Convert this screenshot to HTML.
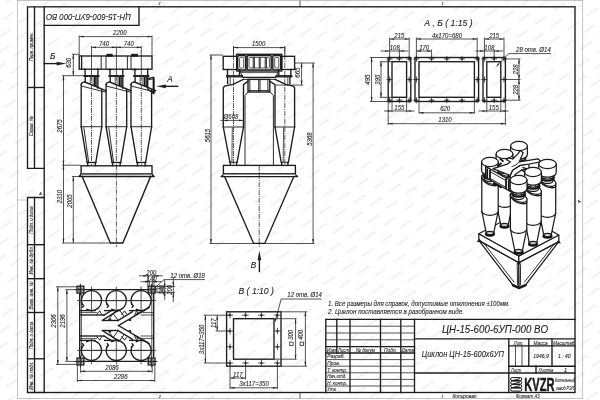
<!DOCTYPE html>
<html><head><meta charset="utf-8"><title>ЦН-15-600-6УП-000 ВО</title>
<style>
html,body{margin:0;padding:0;background:#fff;}
body{width:600px;height:400px;overflow:hidden;font-family:"Liberation Sans",sans-serif;}
svg{display:block;position:absolute;left:0;top:0}
.k{stroke:#1c1c1c;stroke-width:1.35;fill:none;stroke-linecap:square;stroke-linejoin:miter}
.kk{stroke:#111;stroke-width:1.8;fill:none;stroke-linecap:butt}
.m{stroke:#222;stroke-width:.95;fill:none}
.n{stroke:#2a2a2a;stroke-width:.8;fill:none}
.o{stroke:#8a8a8a;stroke-width:.5;fill:none}
.c{stroke:#2a2a2a;stroke-width:.75;fill:none;stroke-dasharray:5 1 1 1}
.d{stroke:#222;stroke-width:1.3;fill:none;stroke-dasharray:.9 2.2}
.a{fill:#222;stroke:none}
.w{fill:#fff;stroke:#1c1c1c;stroke-width:1.25;stroke-linejoin:round}
.wn{fill:#fff;stroke:#333;stroke-width:.5}
.b{fill:#1c1c1c;stroke:none}
.t{font-family:"Liberation Sans",sans-serif;font-style:italic;fill:#1e1e1e;stroke:#1e1e1e;stroke-width:.1}
.wm{font-family:"Liberation Sans",sans-serif;font-style:italic;font-weight:bold;fill:#ededed}
</style></head><body>
<svg width="600" height="400" viewBox="0 0 600 400" style="filter:grayscale(1)">
<defs><pattern id="wm" width="16.4" height="17.2" patternUnits="userSpaceOnUse" patternTransform="translate(3,6) rotate(9.8)"><text transform="translate(8.2,9.6) rotate(-44)" text-anchor="middle" font-size="3.1" font-family="Liberation Sans, sans-serif" font-weight="bold" font-style="italic" fill="#e5e5e5">KVZR.RU</text></pattern></defs>
<rect x="0" y="0" width="600" height="400" fill="url(#wm)"/>
<rect class="o" x="17.30" y="0.50" width="565.50" height="398.00"/>
<rect class="k" x="44.20" y="6.80" width="530.80" height="385.70"/>
<path class="k" d="M44.20,6.80 L27.50,6.80 L27.50,168.30 L44.20,168.30"/>
<line class="k" x1="34.50" y1="6.80" x2="34.50" y2="168.30"/>
<line class="k" x1="27.50" y1="87.50" x2="44.20" y2="87.50"/>
<path class="k" d="M44.20,197.50 L27.50,197.50 L27.50,392.50 L44.20,392.50"/>
<line class="k" x1="34.50" y1="197.50" x2="34.50" y2="392.50"/>
<line class="k" x1="27.50" y1="244.70" x2="44.20" y2="244.70"/>
<line class="k" x1="27.50" y1="278.70" x2="44.20" y2="278.70"/>
<line class="k" x1="27.50" y1="312.50" x2="44.20" y2="312.50"/>
<line class="k" x1="27.50" y1="358.80" x2="44.20" y2="358.80"/>
<text class="t" transform="translate(32.80,46.80) rotate(-90) scale(0.96,1)" font-size="5" text-anchor="middle" textLength="30.0" lengthAdjust="spacingAndGlyphs">Перв. примен.</text>
<text class="t" transform="translate(32.80,126.20) rotate(-90) scale(0.96,1)" font-size="5" text-anchor="middle" textLength="20.8" lengthAdjust="spacingAndGlyphs">Справ. №</text>
<text class="t" transform="translate(32.80,220.00) rotate(-90) scale(0.96,1)" font-size="5" text-anchor="middle" textLength="28.6" lengthAdjust="spacingAndGlyphs">Подп. и дата</text>
<text class="t" transform="translate(32.80,260.40) rotate(-90) scale(0.96,1)" font-size="5" text-anchor="middle" textLength="29.5" lengthAdjust="spacingAndGlyphs">Инв. № дубл.</text>
<text class="t" transform="translate(32.80,295.60) rotate(-90) scale(0.96,1)" font-size="5" text-anchor="middle" textLength="29.2" lengthAdjust="spacingAndGlyphs">Взам. инв. №</text>
<text class="t" transform="translate(32.80,335.60) rotate(-90) scale(0.96,1)" font-size="5" text-anchor="middle" textLength="28.6" lengthAdjust="spacingAndGlyphs">Подп. и дата</text>
<text class="t" transform="translate(32.80,375.60) rotate(-90) scale(0.96,1)" font-size="5" text-anchor="middle" textLength="29.5" lengthAdjust="spacingAndGlyphs">Инв. № подл.</text>
<text class="t" transform="translate(40.50,194.60) rotate(0) scale(0.96,1)" font-size="4" text-anchor="middle">А</text>
<text class="t" transform="translate(578.00,201.50) rotate(90) scale(0.96,1)" font-size="4" text-anchor="middle">А</text>
<path class="k" d="M44.20,25.30 L139.00,25.30 L139.00,6.80"/>
<text class="t" transform="translate(88.60,13.80) rotate(180) scale(0.96,1)" font-size="8.8" text-anchor="middle" textLength="88.5" lengthAdjust="spacingAndGlyphs">ЦН-15-600-6УП-000 ВО</text>
<line class="n" x1="300.00" y1="0.50" x2="300.00" y2="6.80"/>
<line class="n" x1="300.00" y1="392.50" x2="300.00" y2="398.50"/>
<text class="t" transform="translate(159.50,2.20) rotate(180) scale(0.96,1)" font-size="3.6" text-anchor="middle">2</text>
<text class="t" transform="translate(442.50,2.20) rotate(180) scale(0.96,1)" font-size="3.6" text-anchor="middle">1</text>
<text class="t" transform="translate(160.00,397.60) rotate(0) scale(0.96,1)" font-size="3.6" text-anchor="middle">2</text>
<text class="t" transform="translate(442.50,397.60) rotate(0) scale(0.96,1)" font-size="3.6" text-anchor="middle">1</text>
<line class="o" x1="17.30" y1="200.00" x2="27.50" y2="200.00"/>
<text class="t" transform="translate(328.00,305.60) rotate(0) scale(0.86,1)" font-size="7" text-anchor="start" textLength="211.6" lengthAdjust="spacingAndGlyphs">1. Все размеры для справок, допустимые отклонения ±100мм.</text>
<text class="t" transform="translate(328.00,313.70) rotate(0) scale(0.86,1)" font-size="7" text-anchor="start" textLength="158.1" lengthAdjust="spacingAndGlyphs">2. Циклон поставляется в разобранном виде.</text>
<line class="k" x1="325.80" y1="319.40" x2="575.00" y2="319.40"/>
<line class="k" x1="350.00" y1="319.40" x2="350.00" y2="392.50"/>
<line class="k" x1="380.50" y1="319.40" x2="380.50" y2="392.50"/>
<line class="k" x1="400.80" y1="319.40" x2="400.80" y2="392.50"/>
<line class="k" x1="414.50" y1="319.40" x2="414.50" y2="392.50"/>
<line class="k" x1="325.80" y1="319.40" x2="325.80" y2="392.50"/>
<line class="k" x1="336.80" y1="319.40" x2="336.80" y2="353.00"/>
<line class="n" x1="325.80" y1="326.20" x2="414.50" y2="326.20"/>
<line class="n" x1="325.80" y1="333.00" x2="414.50" y2="333.00"/>
<line class="n" x1="325.80" y1="339.80" x2="414.50" y2="339.80"/>
<line class="k" x1="325.80" y1="346.60" x2="414.50" y2="346.60"/>
<line class="k" x1="325.80" y1="353.00" x2="414.50" y2="353.00"/>
<line class="n" x1="325.80" y1="359.60" x2="414.50" y2="359.60"/>
<line class="n" x1="325.80" y1="366.20" x2="414.50" y2="366.20"/>
<line class="n" x1="325.80" y1="372.80" x2="414.50" y2="372.80"/>
<line class="n" x1="325.80" y1="379.40" x2="414.50" y2="379.40"/>
<line class="n" x1="325.80" y1="386.00" x2="414.50" y2="386.00"/>
<line class="k" x1="414.50" y1="338.80" x2="575.00" y2="338.80"/>
<line class="k" x1="414.50" y1="373.00" x2="575.00" y2="373.00"/>
<line class="k" x1="508.80" y1="338.80" x2="508.80" y2="392.50"/>
<line class="k" x1="508.80" y1="345.80" x2="575.00" y2="345.80"/>
<line class="k" x1="508.80" y1="366.20" x2="575.00" y2="366.20"/>
<line class="k" x1="528.80" y1="338.80" x2="528.80" y2="366.20"/>
<line class="k" x1="552.00" y1="338.80" x2="552.00" y2="366.20"/>
<line class="n" x1="515.50" y1="345.80" x2="515.50" y2="366.20"/>
<line class="n" x1="522.00" y1="345.80" x2="522.00" y2="366.20"/>
<line class="k" x1="536.00" y1="366.20" x2="536.00" y2="373.00"/>
<text class="t" transform="translate(331.40,351.90) rotate(0) scale(0.96,1)" font-size="5.8" text-anchor="middle" textLength="9.4" lengthAdjust="spacingAndGlyphs">Изм</text>
<text class="t" transform="translate(343.50,351.90) rotate(0) scale(0.96,1)" font-size="5.8" text-anchor="middle" textLength="11.5" lengthAdjust="spacingAndGlyphs">Лист</text>
<text class="t" transform="translate(365.50,351.90) rotate(0) scale(0.96,1)" font-size="5.8" text-anchor="middle" textLength="19.8" lengthAdjust="spacingAndGlyphs">№ докум</text>
<text class="t" transform="translate(390.50,351.90) rotate(0) scale(0.96,1)" font-size="5.8" text-anchor="middle" textLength="13.5" lengthAdjust="spacingAndGlyphs">Подп.</text>
<text class="t" transform="translate(407.70,351.90) rotate(0) scale(0.96,1)" font-size="5.8" text-anchor="middle" textLength="12.7" lengthAdjust="spacingAndGlyphs">Дата</text>
<text class="t" transform="translate(327.20,358.30) rotate(0) scale(0.96,1)" font-size="5.8" text-anchor="start" textLength="18.3" lengthAdjust="spacingAndGlyphs">Разраб.</text>
<text class="t" transform="translate(327.20,364.90) rotate(0) scale(0.96,1)" font-size="5.8" text-anchor="start" textLength="13.5" lengthAdjust="spacingAndGlyphs">Пров.</text>
<text class="t" transform="translate(327.20,371.50) rotate(0) scale(0.96,1)" font-size="5.8" text-anchor="start" textLength="20.8" lengthAdjust="spacingAndGlyphs">Т. контр.</text>
<text class="t" transform="translate(327.20,378.10) rotate(0) scale(0.96,1)" font-size="5.8" text-anchor="start" textLength="20.2" lengthAdjust="spacingAndGlyphs">Нач.отд.</text>
<text class="t" transform="translate(327.20,384.70) rotate(0) scale(0.96,1)" font-size="5.8" text-anchor="start" textLength="20.8" lengthAdjust="spacingAndGlyphs">Н. контр.</text>
<text class="t" transform="translate(327.20,391.30) rotate(0) scale(0.96,1)" font-size="5.8" text-anchor="start" textLength="10.0" lengthAdjust="spacingAndGlyphs">Утв.</text>
<text class="t" transform="translate(495.00,332.80) rotate(0) scale(0.96,1)" font-size="10.4" text-anchor="middle" textLength="110.4" lengthAdjust="spacingAndGlyphs">ЦН-15-600-6УП-000 ВО</text>
<text class="t" transform="translate(462.80,356.80) rotate(0) scale(0.96,1)" font-size="9.4" text-anchor="middle" textLength="85.4" lengthAdjust="spacingAndGlyphs">Циклон ЦН-15-600х6УП</text>
<text class="t" transform="translate(518.60,344.70) rotate(0) scale(0.96,1)" font-size="5.8" text-anchor="middle" textLength="9.9" lengthAdjust="spacingAndGlyphs">Лит.</text>
<text class="t" transform="translate(540.60,344.70) rotate(0) scale(0.96,1)" font-size="5.8" text-anchor="middle" textLength="14.6" lengthAdjust="spacingAndGlyphs">Масса</text>
<text class="t" transform="translate(563.80,344.70) rotate(0) scale(0.96,1)" font-size="5.8" text-anchor="middle" textLength="21.9" lengthAdjust="spacingAndGlyphs">Масштаб</text>
<text class="t" transform="translate(541.00,358.20) rotate(0) scale(0.96,1)" font-size="5.6" text-anchor="middle" textLength="16.1" lengthAdjust="spacingAndGlyphs">1946,9</text>
<text class="t" transform="translate(564.20,358.20) rotate(0) scale(0.96,1)" font-size="5.6" text-anchor="middle" textLength="13.0" lengthAdjust="spacingAndGlyphs">1 : 40</text>
<text class="t" transform="translate(516.00,371.80) rotate(0) scale(0.96,1)" font-size="5.8" text-anchor="middle" textLength="10.4" lengthAdjust="spacingAndGlyphs">Лист</text>
<text class="t" transform="translate(546.00,371.80) rotate(0) scale(0.96,1)" font-size="5.8" text-anchor="middle" textLength="15.1" lengthAdjust="spacingAndGlyphs">Листов</text>
<text class="t" transform="translate(565.50,371.80) rotate(0) scale(0.96,1)" font-size="5.8" text-anchor="middle">1</text>
<text class="t" transform="translate(464.50,398.20) rotate(0) scale(0.96,1)" font-size="5.8" text-anchor="middle" textLength="25.0" lengthAdjust="spacingAndGlyphs">Копировал</text>
<text class="t" transform="translate(527.80,398.20) rotate(0) scale(0.96,1)" font-size="5.8" text-anchor="middle" textLength="25.0" lengthAdjust="spacingAndGlyphs">Формат А3</text>
<rect x="510.6" y="377.60" width="11.2" height="3" rx="1.5" style="fill:#fff;stroke:#111;stroke-width:1"/>
<rect x="510.6" y="381.10" width="11.2" height="3" rx="1.5" style="fill:#fff;stroke:#111;stroke-width:1"/>
<rect x="510.6" y="384.60" width="11.2" height="3" rx="1.5" style="fill:#fff;stroke:#111;stroke-width:1"/>
<rect x="510.6" y="388.10" width="11.2" height="3" rx="1.5" style="fill:#fff;stroke:#111;stroke-width:1"/>
<path style="stroke:#111;stroke-width:.9;fill:none" d="M512.5,380.6 L520,378.6 M512.5,384.1 L520,382.1 M512.5,387.6 L520,385.6"/>
<text transform="translate(524.3,390.6) scale(0.6,1)" font-family="Liberation Sans, sans-serif" font-weight="bold" font-size="18.6" style="fill:#1a1a1a;stroke:#1a1a1a;stroke-width:.5">KVZR</text>
<text transform="translate(524.3,390.6) scale(0.6,1)" font-family="Liberation Sans, sans-serif" font-weight="bold" font-size="18.6" style="fill:none;stroke:#fff;stroke-width:.45" opacity=".0">KVZR</text>
<text class="t" transform="translate(555.00,382.40) rotate(0) scale(0.96,1)" font-size="5.8" text-anchor="start" textLength="20.8" lengthAdjust="spacingAndGlyphs">Котельный</text>
<text class="t" transform="translate(556.00,389.80) rotate(0) scale(0.96,1)" font-size="5.8" text-anchor="start" textLength="18.8" lengthAdjust="spacingAndGlyphs">завод РЭП</text>
<line class="n" x1="91.50" y1="46.00" x2="91.50" y2="76.00"/>
<line class="c" x1="91.50" y1="76.00" x2="91.50" y2="165.20"/>
<line class="n" x1="116.40" y1="46.00" x2="116.40" y2="76.00"/>
<line class="c" x1="116.40" y1="76.00" x2="116.40" y2="165.20"/>
<line class="n" x1="141.30" y1="46.00" x2="141.30" y2="76.00"/>
<line class="c" x1="141.30" y1="76.00" x2="141.30" y2="165.20"/>
<line class="c" x1="116.40" y1="165.20" x2="116.40" y2="247.00"/>
<rect class="k" x="79.20" y="56.00" width="72.80" height="13.20"/>
<line class="k" x1="81.60" y1="56.00" x2="81.60" y2="69.20"/>
<line class="m" x1="101.20" y1="56.00" x2="101.20" y2="69.20"/>
<line class="m" x1="106.00" y1="56.00" x2="106.00" y2="69.20"/>
<line class="m" x1="127.40" y1="56.00" x2="127.40" y2="69.20"/>
<line class="m" x1="131.00" y1="56.00" x2="131.00" y2="69.20"/>
<rect class="k" x="107.00" y="54.50" width="5.00" height="1.50" style="fill:#1c1c1c"/>
<rect class="k" x="131.80" y="54.50" width="5.40" height="1.50" style="fill:#1c1c1c"/>
<rect class="b" x="107.40" y="69.20" width="4.20" height="1.00"/>
<rect class="b" x="132.20" y="69.20" width="4.60" height="1.00"/>
<line class="k" x1="85.10" y1="69.20" x2="85.10" y2="75.40"/>
<line class="k" x1="97.90" y1="69.20" x2="97.90" y2="75.40"/>
<line x1="83.50" y1="76" x2="99.50" y2="76" style="stroke:#111;stroke-width:1.9"/>
<line x1="84.90" y1="76" x2="99.10" y2="76" style="stroke:#fff;stroke-width:.5;stroke-dasharray:.6 2.6"/>
<line class="k" x1="85.30" y1="76.80" x2="85.30" y2="82.00"/>
<line class="k" x1="97.90" y1="76.80" x2="97.90" y2="88.00"/>
<line class="n" x1="90.30" y1="76.80" x2="90.30" y2="84.00"/>
<line class="n" x1="93.10" y1="76.80" x2="93.10" y2="85.00"/>
<line class="kk" x1="94.90" y1="76.80" x2="94.90" y2="86.20"/>
<line class="m" x1="96.70" y1="76.80" x2="96.70" y2="87.20"/>
<line class="k" x1="110.00" y1="69.20" x2="110.00" y2="75.40"/>
<line class="k" x1="122.80" y1="69.20" x2="122.80" y2="75.40"/>
<line x1="108.40" y1="76" x2="124.40" y2="76" style="stroke:#111;stroke-width:1.9"/>
<line x1="109.80" y1="76" x2="124.00" y2="76" style="stroke:#fff;stroke-width:.5;stroke-dasharray:.6 2.6"/>
<line class="k" x1="110.20" y1="76.80" x2="110.20" y2="82.00"/>
<line class="k" x1="122.80" y1="76.80" x2="122.80" y2="88.00"/>
<line class="n" x1="115.20" y1="76.80" x2="115.20" y2="84.00"/>
<line class="n" x1="118.00" y1="76.80" x2="118.00" y2="85.00"/>
<line class="kk" x1="119.80" y1="76.80" x2="119.80" y2="86.20"/>
<line class="m" x1="121.60" y1="76.80" x2="121.60" y2="87.20"/>
<line class="k" x1="134.90" y1="69.20" x2="134.90" y2="75.40"/>
<line class="k" x1="147.70" y1="69.20" x2="147.70" y2="75.40"/>
<line x1="133.30" y1="76" x2="149.30" y2="76" style="stroke:#111;stroke-width:1.9"/>
<line x1="134.70" y1="76" x2="148.90" y2="76" style="stroke:#fff;stroke-width:.5;stroke-dasharray:.6 2.6"/>
<line class="k" x1="135.10" y1="76.80" x2="135.10" y2="82.00"/>
<line class="k" x1="147.70" y1="76.80" x2="147.70" y2="88.00"/>
<line class="n" x1="140.10" y1="76.80" x2="140.10" y2="84.00"/>
<line class="n" x1="142.90" y1="76.80" x2="142.90" y2="85.00"/>
<line class="kk" x1="144.70" y1="76.80" x2="144.70" y2="86.20"/>
<line class="m" x1="146.50" y1="76.80" x2="146.50" y2="87.20"/>
<path class="k" d="M81.20,84.4 Q81.60,82.2 84.20,81.8 L105.80,90.6"/>
<path class="m" d="M81.20,86 L105.80,92.2"/>
<line class="k" x1="81.20" y1="84.40" x2="81.20" y2="126.70"/>
<line class="k" x1="101.80" y1="89.60" x2="101.80" y2="126.70"/>
<line class="m" x1="81.20" y1="126.70" x2="101.80" y2="126.70"/>
<line class="k" x1="81.20" y1="126.70" x2="87.20" y2="162.50"/>
<line class="k" x1="101.80" y1="126.70" x2="95.80" y2="162.50"/>
<line class="k" x1="87.20" y1="162.50" x2="95.80" y2="162.50"/>
<line class="k" x1="87.70" y1="162.50" x2="87.70" y2="165.60"/>
<line class="k" x1="95.30" y1="162.50" x2="95.30" y2="165.60"/>
<line class="m" x1="83.80" y1="127.20" x2="88.60" y2="162.00"/>
<path class="k" d="M106.10,84.4 Q106.50,82.2 109.10,81.8 L130.70,90.6"/>
<path class="m" d="M106.10,86 L130.70,92.2"/>
<line class="k" x1="106.10" y1="84.40" x2="106.10" y2="126.70"/>
<line class="k" x1="126.70" y1="89.60" x2="126.70" y2="126.70"/>
<line class="m" x1="106.10" y1="126.70" x2="126.70" y2="126.70"/>
<line class="k" x1="106.10" y1="126.70" x2="112.10" y2="162.50"/>
<line class="k" x1="126.70" y1="126.70" x2="120.70" y2="162.50"/>
<line class="k" x1="112.10" y1="162.50" x2="120.70" y2="162.50"/>
<line class="k" x1="112.60" y1="162.50" x2="112.60" y2="165.60"/>
<line class="k" x1="120.20" y1="162.50" x2="120.20" y2="165.60"/>
<line class="m" x1="108.70" y1="127.20" x2="113.50" y2="162.00"/>
<path class="k" d="M131.00,84.4 Q131.40,82.2 134.00,81.8 L155.60,90.6"/>
<path class="m" d="M131.00,86 L155.60,92.2"/>
<line class="k" x1="131.00" y1="84.40" x2="131.00" y2="126.70"/>
<line class="k" x1="151.60" y1="89.60" x2="151.60" y2="126.70"/>
<line class="m" x1="131.00" y1="126.70" x2="151.60" y2="126.70"/>
<line class="k" x1="131.00" y1="126.70" x2="137.00" y2="162.50"/>
<line class="k" x1="151.60" y1="126.70" x2="145.60" y2="162.50"/>
<line class="k" x1="137.00" y1="162.50" x2="145.60" y2="162.50"/>
<line class="k" x1="137.50" y1="162.50" x2="137.50" y2="165.60"/>
<line class="k" x1="145.10" y1="162.50" x2="145.10" y2="165.60"/>
<path class="k" d="M148.00,78.60 L153.60,77.40 L153.60,93.50 L148.00,89.40"/>
<line class="kk" x1="153.60" y1="77.40" x2="153.60" y2="93.50"/>
<line class="m" x1="148.00" y1="79.80" x2="153.60" y2="78.80"/>
<rect class="k" x="81.10" y="165.80" width="70.90" height="8.10"/>
<line class="k" x1="79.60" y1="176.50" x2="153.20" y2="176.50"/>
<path class="b" d="M77.60,176.90 L81.10,173.20 L81.10,176.90 Z"/>
<path class="b" d="M155.40,176.90 L152.00,173.20 L152.00,176.90 Z"/>
<path class="k" d="M82.20,176.50 L110.40,243.00 L122.80,243.00 L150.60,176.50"/>
<line class="n" x1="79.20" y1="35.50" x2="79.20" y2="56.00"/>
<line class="n" x1="152.00" y1="35.50" x2="152.00" y2="56.00"/>
<line class="n" x1="79.20" y1="36.60" x2="152.00" y2="36.60"/>
<path class="a" d="M79.20,36.60 L83.70,35.75 L83.70,37.45 Z"/>
<path class="a" d="M152.00,36.60 L147.50,37.45 L147.50,35.75 Z"/>
<text class="t" transform="translate(119.80,35.30) rotate(0) scale(0.96,1)" font-size="6.3" text-anchor="middle">2200</text>
<line class="n" x1="91.50" y1="47.30" x2="116.40" y2="47.30"/>
<path class="a" d="M91.50,47.30 L96.00,46.45 L96.00,48.15 Z"/>
<path class="a" d="M116.40,47.30 L111.90,48.15 L111.90,46.45 Z"/>
<text class="t" transform="translate(104.00,46.10) rotate(0) scale(0.96,1)" font-size="6.3" text-anchor="middle">740</text>
<line class="n" x1="116.40" y1="47.30" x2="141.30" y2="47.30"/>
<path class="a" d="M116.40,47.30 L120.90,46.45 L120.90,48.15 Z"/>
<path class="a" d="M141.30,47.30 L136.80,48.15 L136.80,46.45 Z"/>
<text class="t" transform="translate(128.80,46.10) rotate(0) scale(0.96,1)" font-size="6.3" text-anchor="middle">740</text>
<line class="n" x1="71.80" y1="54.30" x2="79.20" y2="54.30"/>
<line class="n" x1="62.00" y1="75.70" x2="84.00" y2="75.70"/>
<line class="n" x1="73.30" y1="54.30" x2="73.30" y2="75.70"/>
<path class="a" d="M73.30,54.30 L74.15,58.80 L72.45,58.80 Z"/>
<path class="a" d="M73.30,75.70 L72.45,71.20 L74.15,71.20 Z"/>
<text class="t" transform="translate(71.30,62.80) rotate(-90) scale(0.96,1)" font-size="6.3" text-anchor="middle">630</text>
<line class="n" x1="63.50" y1="75.70" x2="63.50" y2="165.20"/>
<path class="a" d="M63.50,75.70 L64.35,80.20 L62.65,80.20 Z"/>
<path class="a" d="M63.50,165.20 L62.65,160.70 L64.35,160.70 Z"/>
<text class="t" transform="translate(62.00,126.00) rotate(-90) scale(0.96,1)" font-size="6.3" text-anchor="middle">2675</text>
<line class="n" x1="62.00" y1="165.20" x2="81.00" y2="165.20"/>
<line class="n" x1="63.50" y1="165.20" x2="63.50" y2="243.00"/>
<path class="a" d="M63.50,165.20 L64.35,169.70 L62.65,169.70 Z"/>
<path class="a" d="M63.50,243.00 L62.65,238.50 L64.35,238.50 Z"/>
<text class="t" transform="translate(62.20,196.50) rotate(-90) scale(0.96,1)" font-size="6.3" text-anchor="middle">2310</text>
<line class="n" x1="72.00" y1="176.50" x2="78.60" y2="176.50"/>
<line class="n" x1="62.00" y1="243.00" x2="110.40" y2="243.00"/>
<line class="n" x1="73.30" y1="176.50" x2="73.30" y2="243.00"/>
<path class="a" d="M73.30,176.50 L74.15,181.00 L72.45,181.00 Z"/>
<path class="a" d="M73.30,243.00 L72.45,238.50 L74.15,238.50 Z"/>
<text class="t" transform="translate(72.00,201.00) rotate(-90) scale(0.96,1)" font-size="6.3" text-anchor="middle">2005</text>
<line class="k" x1="44.20" y1="63.60" x2="58.00" y2="63.60"/>
<path class="a" d="M66.30,63.60 L56.70,65.50 L56.70,61.70 Z"/>
<text class="t" transform="translate(52.70,58.60) rotate(0) scale(0.96,1)" font-size="8.6" text-anchor="middle">Б</text>
<line class="k" x1="164.50" y1="86.30" x2="177.70" y2="86.30"/>
<path class="a" d="M156.20,86.30 L165.90,84.40 L165.90,88.20 Z"/>
<text class="t" transform="translate(170.00,81.80) rotate(0) scale(0.96,1)" font-size="8.6" text-anchor="middle">А</text>
<line class="c" x1="233.50" y1="47.00" x2="233.50" y2="165.40"/>
<line class="c" x1="284.80" y1="47.00" x2="284.80" y2="165.40"/>
<line class="c" x1="259.20" y1="166.00" x2="259.20" y2="247.00"/>
<rect class="k" x="223.20" y="56.30" width="13.50" height="13.20"/>
<rect class="k" x="281.70" y="56.30" width="12.90" height="13.20"/>
<rect class="k" x="236.70" y="54.30" width="45.00" height="16.70"/>
<rect class="k" x="237.70" y="55.50" width="7.90" height="14.30" rx="1.6"/>
<rect class="k" x="247.20" y="55.50" width="24.00" height="14.30" rx="1.6"/>
<rect class="k" x="272.80" y="55.50" width="7.90" height="14.30" rx="1.6"/>
<rect class="n" x="239.60" y="57.40" width="4.10" height="10.60" rx="0.8"/>
<rect class="n" x="274.70" y="57.40" width="4.10" height="10.60" rx="0.8"/>
<rect class="n" x="249.00" y="57.40" width="20.40" height="10.60" rx="0.8"/>
<line class="m" x1="253.20" y1="57.20" x2="253.20" y2="68.20"/>
<line class="m" x1="254.40" y1="57.20" x2="254.40" y2="68.20"/>
<line class="m" x1="259.20" y1="57.20" x2="259.20" y2="68.20"/>
<line class="m" x1="260.20" y1="57.20" x2="260.20" y2="68.20"/>
<line class="m" x1="265.20" y1="57.20" x2="265.20" y2="68.20"/>
<line class="m" x1="266.40" y1="57.20" x2="266.40" y2="68.20"/>
<line class="n" x1="246.40" y1="55.00" x2="246.40" y2="70.50"/>
<line class="n" x1="272.00" y1="55.00" x2="272.00" y2="70.50"/>
<line class="n" x1="240.50" y1="72.60" x2="277.90" y2="72.60"/>
<path class="m" d="M240.50,71.00 L240.50,72.60 L243.00,77.00"/>
<path class="m" d="M277.90,71.00 L277.90,72.60 L275.60,77.00"/>
<line class="k" x1="227.50" y1="69.50" x2="227.50" y2="75.60"/>
<line class="k" x1="239.50" y1="69.50" x2="239.50" y2="75.60"/>
<line class="k" x1="278.80" y1="69.50" x2="278.80" y2="75.60"/>
<line class="k" x1="290.80" y1="69.50" x2="290.80" y2="75.60"/>
<line class="kk" x1="226.00" y1="76.00" x2="242.80" y2="76.00"/>
<line class="kk" x1="275.60" y1="76.00" x2="292.40" y2="76.00"/>
<line x1="227" y1="76" x2="242.5" y2="76" style="stroke:#fff;stroke-width:.5;stroke-dasharray:.6 2.6"/>
<line x1="276.4" y1="76" x2="292" y2="76" style="stroke:#fff;stroke-width:.5;stroke-dasharray:.6 2.6"/>
<line class="n" x1="226.00" y1="77.10" x2="243.00" y2="77.10"/>
<line class="n" x1="275.40" y1="77.10" x2="292.40" y2="77.10"/>
<line class="k" x1="243.00" y1="77.40" x2="275.60" y2="77.40"/>
<line class="m" x1="243.00" y1="79.40" x2="275.60" y2="79.40"/>
<rect class="k" x="248.00" y="79.40" width="21.80" height="12.60"/>
<line class="m" x1="249.80" y1="79.40" x2="249.80" y2="92.00"/>
<line class="m" x1="267.90" y1="79.40" x2="267.90" y2="92.00"/>
<line class="m" x1="258.70" y1="79.40" x2="258.70" y2="92.00"/>
<line class="m" x1="260.00" y1="79.40" x2="260.00" y2="92.00"/>
<line class="m" x1="248.00" y1="90.60" x2="269.80" y2="90.60"/>
<path class="m" d="M248.00,92.00 L245.00,95.40 L245.00,165.40"/>
<path class="m" d="M269.80,92.00 L273.40,95.40 L273.40,165.40"/>
<path class="k" d="M227.60,77.10 L227.60,83.60"/>
<path class="k" d="M289.90,77.10 L289.90,83.60"/>
<path class="k" d="M243.40,79.40 L233.00,84.40 L224.60,86.00 L223.30,87.80 L223.30,127.00"/>
<path class="k" d="M275.20,79.40 L285.60,84.40 L293.40,86.00 L294.60,87.80 L294.60,127.00"/>
<path class="k" d="M248.00,81.20 L243.50,84.60 L243.50,127.00"/>
<path class="k" d="M269.80,81.20 L275.00,84.60 L275.00,127.00"/>
<line class="n" x1="230.20" y1="77.10" x2="230.20" y2="84.80"/>
<line class="n" x1="287.80" y1="77.10" x2="287.80" y2="84.80"/>
<line class="m" x1="223.30" y1="127.00" x2="243.50" y2="127.00"/>
<line class="k" x1="223.30" y1="127.00" x2="229.90" y2="162.30"/>
<line class="k" x1="243.50" y1="127.00" x2="237.10" y2="162.30"/>
<line class="m" x1="229.90" y1="162.30" x2="237.10" y2="162.30"/>
<line class="k" x1="230.40" y1="162.30" x2="230.40" y2="165.30"/>
<line class="k" x1="236.60" y1="162.30" x2="236.60" y2="165.30"/>
<line class="n" x1="232.30" y1="127.40" x2="231.90" y2="162.00"/>
<line class="m" x1="275.00" y1="127.00" x2="294.60" y2="127.00"/>
<line class="k" x1="275.00" y1="127.00" x2="281.20" y2="162.30"/>
<line class="k" x1="294.60" y1="127.00" x2="288.40" y2="162.30"/>
<line class="m" x1="281.20" y1="162.30" x2="288.40" y2="162.30"/>
<line class="k" x1="281.70" y1="162.30" x2="281.70" y2="165.30"/>
<line class="k" x1="287.90" y1="162.30" x2="287.90" y2="165.30"/>
<line class="n" x1="283.60" y1="127.40" x2="283.20" y2="162.00"/>
<rect class="k" x="223.40" y="165.40" width="72.00" height="8.40"/>
<line class="k" x1="221.40" y1="176.60" x2="297.40" y2="176.60"/>
<path class="b" d="M220.40,176.60 L223.40,173.80 L223.40,176.60 Z"/>
<path class="b" d="M298.40,176.60 L295.40,173.80 L295.40,176.60 Z"/>
<path class="k" d="M224.60,176.60 L253.60,243.40 L264.80,243.40 L293.80,176.60"/>
<line class="n" x1="233.50" y1="46.00" x2="233.50" y2="55.00"/>
<line class="n" x1="284.80" y1="46.00" x2="284.80" y2="55.00"/>
<line class="n" x1="233.50" y1="47.60" x2="284.80" y2="47.60"/>
<path class="a" d="M233.50,47.60 L238.00,46.75 L238.00,48.45 Z"/>
<path class="a" d="M284.80,47.60 L280.30,48.45 L280.30,46.75 Z"/>
<text class="t" transform="translate(258.60,46.00) rotate(0) scale(0.96,1)" font-size="6.3" text-anchor="middle">1500</text>
<line class="n" x1="209.50" y1="55.00" x2="223.00" y2="55.00"/>
<line class="n" x1="209.50" y1="243.50" x2="253.60" y2="243.50"/>
<line class="n" x1="211.00" y1="55.00" x2="211.00" y2="243.50"/>
<path class="a" d="M211.00,55.00 L211.85,59.50 L210.15,59.50 Z"/>
<path class="a" d="M211.00,243.50 L210.15,239.00 L211.85,239.00 Z"/>
<text class="t" transform="translate(209.70,135.50) rotate(-90) scale(0.96,1)" font-size="6.3" text-anchor="middle">5615</text>
<line class="n" x1="294.60" y1="63.00" x2="314.60" y2="63.00"/>
<line class="n" x1="264.80" y1="243.50" x2="314.60" y2="243.50"/>
<line class="n" x1="313.10" y1="63.00" x2="313.10" y2="243.50"/>
<path class="a" d="M313.10,63.00 L313.95,67.50 L312.25,67.50 Z"/>
<path class="a" d="M313.10,243.50 L312.25,239.00 L313.95,239.00 Z"/>
<text class="t" transform="translate(311.60,139.00) rotate(-90) scale(0.96,1)" font-size="6.3" text-anchor="middle">5368</text>
<line class="n" x1="276.00" y1="85.10" x2="303.20" y2="85.10"/>
<line class="n" x1="301.60" y1="63.00" x2="301.60" y2="85.10"/>
<path class="a" d="M301.60,63.00 L302.45,67.50 L300.75,67.50 Z"/>
<path class="a" d="M301.60,85.10 L300.75,80.60 L302.45,80.60 Z"/>
<text class="t" transform="translate(300.00,72.60) rotate(-90) scale(0.96,1)" font-size="6.3" text-anchor="middle">665</text>
<line class="n" x1="220.50" y1="120.40" x2="243.50" y2="120.40"/>
<path class="a" d="M223.30,120.40 L227.80,119.55 L227.80,121.25 Z"/>
<path class="a" d="M243.50,120.40 L239.00,121.25 L239.00,119.55 Z"/>
<text class="t" transform="translate(231.00,119.00) rotate(0) scale(0.96,1)" font-size="6.3" text-anchor="middle">Ø608</text>
<line class="k" x1="259.40" y1="259.00" x2="259.40" y2="271.50"/>
<path class="a" d="M259.40,250.60 L261.30,260.20 L257.50,260.20 Z"/>
<text class="t" transform="translate(253.60,267.60) rotate(0) scale(0.96,1)" font-size="8.6" text-anchor="middle">В</text>
<text class="t" transform="translate(448.50,25.60) rotate(0) scale(0.96,1)" font-size="9" text-anchor="middle">А , Б  ( 1:15 )</text>
<rect class="k" x="388.20" y="57.50" width="22.60" height="44.00"/>
<rect class="k" x="415.00" y="57.50" width="63.60" height="44.00"/>
<rect class="k" x="483.00" y="57.50" width="22.40" height="44.00"/>
<rect class="k" x="392.00" y="61.70" width="14.60" height="35.60"/>
<rect class="k" x="419.00" y="61.70" width="55.40" height="35.60"/>
<rect class="k" x="486.80" y="61.70" width="14.00" height="35.60"/>
<circle class="b" cx="389.60" cy="58.90" r="1.00"/>
<line class="n" x1="389.60" y1="55.90" x2="389.60" y2="61.90"/>
<line class="n" x1="386.60" y1="58.90" x2="392.60" y2="58.90"/>
<circle class="b" cx="389.60" cy="79.50" r="1.00"/>
<line class="n" x1="389.60" y1="76.50" x2="389.60" y2="82.50"/>
<line class="n" x1="386.60" y1="79.50" x2="392.60" y2="79.50"/>
<circle class="b" cx="389.60" cy="100.20" r="1.00"/>
<line class="n" x1="389.60" y1="97.20" x2="389.60" y2="103.20"/>
<line class="n" x1="386.60" y1="100.20" x2="392.60" y2="100.20"/>
<circle class="b" cx="399.40" cy="58.90" r="1.00"/>
<line class="n" x1="399.40" y1="55.90" x2="399.40" y2="61.90"/>
<line class="n" x1="396.40" y1="58.90" x2="402.40" y2="58.90"/>
<circle class="b" cx="399.40" cy="100.20" r="1.00"/>
<line class="n" x1="399.40" y1="97.20" x2="399.40" y2="103.20"/>
<line class="n" x1="396.40" y1="100.20" x2="402.40" y2="100.20"/>
<circle class="b" cx="409.20" cy="58.90" r="1.00"/>
<line class="n" x1="409.20" y1="55.90" x2="409.20" y2="61.90"/>
<line class="n" x1="406.20" y1="58.90" x2="412.20" y2="58.90"/>
<circle class="b" cx="409.20" cy="79.50" r="1.00"/>
<line class="n" x1="409.20" y1="76.50" x2="409.20" y2="82.50"/>
<line class="n" x1="406.20" y1="79.50" x2="412.20" y2="79.50"/>
<circle class="b" cx="409.20" cy="100.20" r="1.00"/>
<line class="n" x1="409.20" y1="97.20" x2="409.20" y2="103.20"/>
<line class="n" x1="406.20" y1="100.20" x2="412.20" y2="100.20"/>
<circle class="b" cx="484.40" cy="58.90" r="1.00"/>
<line class="n" x1="484.40" y1="55.90" x2="484.40" y2="61.90"/>
<line class="n" x1="481.40" y1="58.90" x2="487.40" y2="58.90"/>
<circle class="b" cx="484.40" cy="79.50" r="1.00"/>
<line class="n" x1="484.40" y1="76.50" x2="484.40" y2="82.50"/>
<line class="n" x1="481.40" y1="79.50" x2="487.40" y2="79.50"/>
<circle class="b" cx="484.40" cy="100.20" r="1.00"/>
<line class="n" x1="484.40" y1="97.20" x2="484.40" y2="103.20"/>
<line class="n" x1="481.40" y1="100.20" x2="487.40" y2="100.20"/>
<circle class="b" cx="494.20" cy="58.90" r="1.00"/>
<line class="n" x1="494.20" y1="55.90" x2="494.20" y2="61.90"/>
<line class="n" x1="491.20" y1="58.90" x2="497.20" y2="58.90"/>
<circle class="b" cx="494.20" cy="100.20" r="1.00"/>
<line class="n" x1="494.20" y1="97.20" x2="494.20" y2="103.20"/>
<line class="n" x1="491.20" y1="100.20" x2="497.20" y2="100.20"/>
<circle class="b" cx="504.00" cy="58.90" r="1.00"/>
<line class="n" x1="504.00" y1="55.90" x2="504.00" y2="61.90"/>
<line class="n" x1="501.00" y1="58.90" x2="507.00" y2="58.90"/>
<circle class="b" cx="504.00" cy="79.50" r="1.00"/>
<line class="n" x1="504.00" y1="76.50" x2="504.00" y2="82.50"/>
<line class="n" x1="501.00" y1="79.50" x2="507.00" y2="79.50"/>
<circle class="b" cx="504.00" cy="100.20" r="1.00"/>
<line class="n" x1="504.00" y1="97.20" x2="504.00" y2="103.20"/>
<line class="n" x1="501.00" y1="100.20" x2="507.00" y2="100.20"/>
<circle class="b" cx="416.40" cy="58.90" r="1.00"/>
<line class="n" x1="416.40" y1="55.90" x2="416.40" y2="61.90"/>
<line class="n" x1="413.40" y1="58.90" x2="419.40" y2="58.90"/>
<circle class="b" cx="416.40" cy="79.50" r="1.00"/>
<line class="n" x1="416.40" y1="76.50" x2="416.40" y2="82.50"/>
<line class="n" x1="413.40" y1="79.50" x2="419.40" y2="79.50"/>
<circle class="b" cx="416.40" cy="100.20" r="1.00"/>
<line class="n" x1="416.40" y1="97.20" x2="416.40" y2="103.20"/>
<line class="n" x1="413.40" y1="100.20" x2="419.40" y2="100.20"/>
<circle class="b" cx="431.60" cy="58.90" r="1.00"/>
<line class="n" x1="431.60" y1="55.90" x2="431.60" y2="61.90"/>
<line class="n" x1="428.60" y1="58.90" x2="434.60" y2="58.90"/>
<circle class="b" cx="431.60" cy="100.20" r="1.00"/>
<line class="n" x1="431.60" y1="97.20" x2="431.60" y2="103.20"/>
<line class="n" x1="428.60" y1="100.20" x2="434.60" y2="100.20"/>
<circle class="b" cx="446.80" cy="58.90" r="1.00"/>
<line class="n" x1="446.80" y1="55.90" x2="446.80" y2="61.90"/>
<line class="n" x1="443.80" y1="58.90" x2="449.80" y2="58.90"/>
<circle class="b" cx="446.80" cy="100.20" r="1.00"/>
<line class="n" x1="446.80" y1="97.20" x2="446.80" y2="103.20"/>
<line class="n" x1="443.80" y1="100.20" x2="449.80" y2="100.20"/>
<circle class="b" cx="462.00" cy="58.90" r="1.00"/>
<line class="n" x1="462.00" y1="55.90" x2="462.00" y2="61.90"/>
<line class="n" x1="459.00" y1="58.90" x2="465.00" y2="58.90"/>
<circle class="b" cx="462.00" cy="100.20" r="1.00"/>
<line class="n" x1="462.00" y1="97.20" x2="462.00" y2="103.20"/>
<line class="n" x1="459.00" y1="100.20" x2="465.00" y2="100.20"/>
<circle class="b" cx="477.20" cy="58.90" r="1.00"/>
<line class="n" x1="477.20" y1="55.90" x2="477.20" y2="61.90"/>
<line class="n" x1="474.20" y1="58.90" x2="480.20" y2="58.90"/>
<circle class="b" cx="477.20" cy="79.50" r="1.00"/>
<line class="n" x1="477.20" y1="76.50" x2="477.20" y2="82.50"/>
<line class="n" x1="474.20" y1="79.50" x2="480.20" y2="79.50"/>
<circle class="b" cx="477.20" cy="100.20" r="1.00"/>
<line class="n" x1="477.20" y1="97.20" x2="477.20" y2="103.20"/>
<line class="n" x1="474.20" y1="100.20" x2="480.20" y2="100.20"/>
<line class="n" x1="389.60" y1="37.50" x2="389.60" y2="57.00"/>
<line class="n" x1="409.20" y1="37.50" x2="409.20" y2="57.00"/>
<line class="n" x1="389.60" y1="39.00" x2="409.20" y2="39.00"/>
<path class="a" d="M389.60,39.00 L394.10,38.15 L394.10,39.85 Z"/>
<path class="a" d="M409.20,39.00 L404.70,39.85 L404.70,38.15 Z"/>
<text class="t" transform="translate(399.40,37.60) rotate(0) scale(0.96,1)" font-size="6.3" text-anchor="middle">215</text>
<line class="n" x1="416.40" y1="37.50" x2="416.40" y2="57.00"/>
<line class="n" x1="477.20" y1="37.50" x2="477.20" y2="57.00"/>
<line class="n" x1="416.40" y1="39.00" x2="477.20" y2="39.00"/>
<path class="a" d="M416.40,39.00 L420.90,38.15 L420.90,39.85 Z"/>
<path class="a" d="M477.20,39.00 L472.70,39.85 L472.70,38.15 Z"/>
<text class="t" transform="translate(447.00,37.60) rotate(0) scale(0.96,1)" font-size="6.3" text-anchor="middle">4х170=680</text>
<line class="n" x1="484.40" y1="37.50" x2="484.40" y2="57.00"/>
<line class="n" x1="504.00" y1="37.50" x2="504.00" y2="57.00"/>
<line class="n" x1="484.40" y1="39.00" x2="504.00" y2="39.00"/>
<path class="a" d="M484.40,39.00 L488.90,38.15 L488.90,39.85 Z"/>
<path class="a" d="M504.00,39.00 L499.50,39.85 L499.50,38.15 Z"/>
<text class="t" transform="translate(494.20,37.60) rotate(0) scale(0.96,1)" font-size="6.3" text-anchor="middle">215</text>
<line class="n" x1="399.40" y1="49.50" x2="399.40" y2="57.00"/>
<line class="n" x1="431.60" y1="49.50" x2="431.60" y2="57.00"/>
<line class="n" x1="494.20" y1="49.50" x2="494.20" y2="57.00"/>
<line class="n" x1="380.60" y1="51.00" x2="408.40" y2="51.00"/>
<path class="a" d="M389.60,51.00 L385.10,51.85 L385.10,50.15 Z"/>
<path class="a" d="M399.40,51.00 L403.90,50.15 L403.90,51.85 Z"/>
<text class="t" transform="translate(394.80,49.60) rotate(0) scale(0.96,1)" font-size="6.3" text-anchor="middle">108</text>
<line class="n" x1="416.40" y1="51.00" x2="431.60" y2="51.00"/>
<path class="a" d="M416.40,51.00 L420.90,50.15 L420.90,51.85 Z"/>
<path class="a" d="M431.60,51.00 L427.10,51.85 L427.10,50.15 Z"/>
<text class="t" transform="translate(424.20,49.60) rotate(0) scale(0.96,1)" font-size="6.3" text-anchor="middle">170</text>
<line class="n" x1="475.40" y1="51.00" x2="503.20" y2="51.00"/>
<path class="a" d="M484.40,51.00 L479.90,51.85 L479.90,50.15 Z"/>
<path class="a" d="M494.20,51.00 L498.70,50.15 L498.70,51.85 Z"/>
<text class="t" transform="translate(489.40,49.60) rotate(0) scale(0.96,1)" font-size="6.3" text-anchor="middle">108</text>
<path class="n" d="M496.40,66.20 L509.00,53.60 L551.00,53.60"/>
<path class="a" d="M496.40,66.20 L498.31,63.30 L499.30,64.29 Z"/>
<text class="t" transform="translate(533.40,52.00) rotate(0) scale(0.96,1)" font-size="6.3" text-anchor="middle">28 отв. Ø14</text>
<line class="n" x1="370.00" y1="57.50" x2="388.20" y2="57.50"/>
<line class="n" x1="370.00" y1="101.50" x2="388.20" y2="101.50"/>
<line class="n" x1="371.60" y1="57.50" x2="371.60" y2="101.50"/>
<path class="a" d="M371.60,57.50 L372.45,62.00 L370.75,62.00 Z"/>
<path class="a" d="M371.60,101.50 L370.75,97.00 L372.45,97.00 Z"/>
<text class="t" transform="translate(370.20,79.60) rotate(-90) scale(0.96,1)" font-size="6.3" text-anchor="middle">495</text>
<line class="n" x1="379.60" y1="61.70" x2="392.00" y2="61.70"/>
<line class="n" x1="379.60" y1="97.30" x2="392.00" y2="97.30"/>
<line class="n" x1="381.00" y1="61.70" x2="381.00" y2="97.30"/>
<path class="a" d="M381.00,61.70 L381.85,66.20 L380.15,66.20 Z"/>
<path class="a" d="M381.00,97.30 L380.15,92.80 L381.85,92.80 Z"/>
<text class="t" transform="translate(379.60,79.60) rotate(-90) scale(0.96,1)" font-size="6.3" text-anchor="middle">395</text>
<line class="n" x1="505.40" y1="58.90" x2="520.50" y2="58.90"/>
<line class="n" x1="505.40" y1="79.50" x2="520.50" y2="79.50"/>
<line class="n" x1="505.40" y1="100.20" x2="520.50" y2="100.20"/>
<line class="n" x1="519.00" y1="58.90" x2="519.00" y2="79.50"/>
<path class="a" d="M519.00,58.90 L519.85,63.40 L518.15,63.40 Z"/>
<path class="a" d="M519.00,79.50 L518.15,75.00 L519.85,75.00 Z"/>
<text class="t" transform="translate(517.60,69.40) rotate(-90) scale(0.96,1)" font-size="6.3" text-anchor="middle">228</text>
<line class="n" x1="519.00" y1="79.50" x2="519.00" y2="100.20"/>
<path class="a" d="M519.00,79.50 L519.85,84.00 L518.15,84.00 Z"/>
<path class="a" d="M519.00,100.20 L518.15,95.70 L519.85,95.70 Z"/>
<text class="t" transform="translate(517.60,89.80) rotate(-90) scale(0.96,1)" font-size="6.3" text-anchor="middle">228</text>
<line class="n" x1="392.00" y1="97.50" x2="392.00" y2="112.40"/>
<line class="n" x1="406.60" y1="97.50" x2="406.60" y2="112.40"/>
<line class="n" x1="384.00" y1="111.00" x2="414.60" y2="111.00"/>
<path class="a" d="M392.00,111.00 L387.50,111.85 L387.50,110.15 Z"/>
<path class="a" d="M406.60,111.00 L411.10,110.15 L411.10,111.85 Z"/>
<text class="t" transform="translate(399.40,109.60) rotate(0) scale(0.96,1)" font-size="6.3" text-anchor="middle">155</text>
<line class="n" x1="419.00" y1="97.50" x2="419.00" y2="113.60"/>
<line class="n" x1="474.40" y1="97.50" x2="474.40" y2="113.60"/>
<line class="n" x1="419.00" y1="112.80" x2="474.40" y2="112.80"/>
<path class="a" d="M419.00,112.80 L423.50,111.95 L423.50,113.65 Z"/>
<path class="a" d="M474.40,112.80 L469.90,113.65 L469.90,111.95 Z"/>
<text class="t" transform="translate(445.20,111.30) rotate(0) scale(0.96,1)" font-size="6.3" text-anchor="middle">620</text>
<line class="n" x1="486.80" y1="97.50" x2="486.80" y2="112.40"/>
<line class="n" x1="500.80" y1="97.50" x2="500.80" y2="112.40"/>
<line class="n" x1="478.80" y1="111.00" x2="508.80" y2="111.00"/>
<path class="a" d="M486.80,111.00 L482.30,111.85 L482.30,110.15 Z"/>
<path class="a" d="M500.80,111.00 L505.30,110.15 L505.30,111.85 Z"/>
<text class="t" transform="translate(493.80,109.60) rotate(0) scale(0.96,1)" font-size="6.3" text-anchor="middle">155</text>
<line class="n" x1="388.20" y1="101.50" x2="388.20" y2="125.20"/>
<line class="n" x1="505.40" y1="101.50" x2="505.40" y2="125.20"/>
<line class="n" x1="388.20" y1="123.70" x2="505.40" y2="123.70"/>
<path class="a" d="M388.20,123.70 L392.70,122.85 L392.70,124.55 Z"/>
<path class="a" d="M505.40,123.70 L500.90,124.55 L500.90,122.85 Z"/>
<text class="t" transform="translate(445.00,122.30) rotate(0) scale(0.96,1)" font-size="6.3" text-anchor="middle">1310</text>
<line class="k" x1="83.00" y1="289.60" x2="148.00" y2="289.60"/>
<line class="k" x1="83.00" y1="361.40" x2="148.00" y2="361.40"/>
<line class="k" x1="79.70" y1="293.00" x2="79.70" y2="357.00"/>
<line class="k" x1="153.70" y1="293.00" x2="153.70" y2="357.00"/>
<line class="n" x1="151.80" y1="293.40" x2="151.80" y2="356.60"/>
<line class="n" x1="81.40" y1="293.40" x2="81.40" y2="356.60"/>
<path class="k" d="M82.10,304.02 A10,10 0 1 1 86.81,309.43"/>
<path class="k" d="M82.10,304.02 L83.70,305.82 L82.50,307.22"/>
<line class="n" x1="78.90" y1="300.60" x2="104.10" y2="300.60"/>
<line class="n" x1="91.50" y1="286.60" x2="91.50" y2="312.00"/>
<path class="k" d="M82.10,346.98 A10,10 0 1 0 86.81,341.57"/>
<path class="k" d="M82.10,346.98 L83.70,345.18 L82.50,343.78"/>
<line class="n" x1="78.90" y1="350.40" x2="104.10" y2="350.40"/>
<line class="n" x1="91.50" y1="364.40" x2="91.50" y2="339.00"/>
<path class="k" d="M106.90,304.02 A10,10 0 1 1 111.61,309.43"/>
<path class="k" d="M106.90,304.02 L108.50,305.82 L107.30,307.22"/>
<line class="n" x1="103.70" y1="300.60" x2="128.90" y2="300.60"/>
<line class="n" x1="116.30" y1="286.60" x2="116.30" y2="312.00"/>
<path class="k" d="M106.90,346.98 A10,10 0 1 0 111.61,341.57"/>
<path class="k" d="M106.90,346.98 L108.50,345.18 L107.30,343.78"/>
<line class="n" x1="103.70" y1="350.40" x2="128.90" y2="350.40"/>
<line class="n" x1="116.30" y1="364.40" x2="116.30" y2="339.00"/>
<path class="k" d="M131.70,304.02 A10,10 0 1 1 136.41,309.43"/>
<path class="k" d="M131.70,304.02 L133.30,305.82 L132.10,307.22"/>
<line class="n" x1="128.50" y1="300.60" x2="153.70" y2="300.60"/>
<line class="n" x1="141.10" y1="286.60" x2="141.10" y2="312.00"/>
<path class="k" d="M131.70,346.98 A10,10 0 1 0 136.41,341.57"/>
<path class="k" d="M131.70,346.98 L133.30,345.18 L132.10,343.78"/>
<line class="n" x1="128.50" y1="350.40" x2="153.70" y2="350.40"/>
<line class="n" x1="141.10" y1="364.40" x2="141.10" y2="339.00"/>
<line class="n" x1="77.00" y1="300.60" x2="156.00" y2="300.60"/>
<line class="n" x1="77.00" y1="350.40" x2="156.00" y2="350.40"/>
<line class="k" x1="79.70" y1="310.60" x2="95.00" y2="310.60"/>
<line class="k" x1="104.60" y1="310.60" x2="119.60" y2="310.60"/>
<line class="k" x1="129.60" y1="310.60" x2="144.40" y2="310.60"/>
<line class="n" x1="139.00" y1="312.60" x2="153.70" y2="312.60"/>
<line class="n" x1="79.70" y1="312.60" x2="97.00" y2="312.60"/>
<line class="k" x1="79.70" y1="315.00" x2="104.00" y2="315.00"/>
<line class="n" x1="140.50" y1="315.00" x2="153.70" y2="315.00"/>
<line class="k" x1="104.00" y1="315.00" x2="113.00" y2="309.60"/>
<line class="k" x1="102.50" y1="320.40" x2="118.60" y2="310.00"/>
<line class="k" x1="102.50" y1="320.50" x2="118.00" y2="320.50"/>
<line class="k" x1="118.00" y1="320.50" x2="132.40" y2="311.80"/>
<line class="k" x1="118.50" y1="325.50" x2="149.00" y2="307.40"/>
<path class="m" d="M108.00,320.20 L113.20,313.60 L118.00,320.20"/>
<path class="m" d="M113.40,313.40 L119.60,310.20 L124.20,316.60"/>
<path class="m" d="M96.40,314.80 L99.80,310.80 L101.80,314.80"/>
<path class="m" d="M121.40,314.60 L124.60,310.80 L126.60,314.00"/>
<path class="m" d="M134.00,316.40 L136.40,311.40 L139.00,313.20"/>
<path class="b" d="M128.00,321.00 L131.40,318.40 L131.00,321.00 Z"/>
<path class="b" d="M108.60,320.20 L110.60,318.00 L111.60,320.20 Z"/>
<path class="b" d="M135.40,315.20 L137.60,312.00 L138.40,314.60 Z"/>
<line class="k" x1="79.70" y1="340.40" x2="95.00" y2="340.40"/>
<line class="k" x1="104.60" y1="340.40" x2="119.60" y2="340.40"/>
<line class="k" x1="129.60" y1="340.40" x2="144.40" y2="340.40"/>
<line class="n" x1="139.00" y1="338.40" x2="153.70" y2="338.40"/>
<line class="n" x1="79.70" y1="338.40" x2="97.00" y2="338.40"/>
<line class="k" x1="79.70" y1="336.00" x2="104.00" y2="336.00"/>
<line class="n" x1="140.50" y1="336.00" x2="153.70" y2="336.00"/>
<line class="k" x1="104.00" y1="336.00" x2="113.00" y2="341.40"/>
<line class="k" x1="102.50" y1="330.60" x2="118.60" y2="341.00"/>
<line class="k" x1="102.50" y1="330.50" x2="118.00" y2="330.50"/>
<line class="k" x1="118.00" y1="330.50" x2="132.40" y2="339.20"/>
<line class="k" x1="118.50" y1="325.50" x2="149.00" y2="343.60"/>
<path class="m" d="M108.00,330.80 L113.20,337.40 L118.00,330.80"/>
<path class="m" d="M113.40,337.60 L119.60,340.80 L124.20,334.40"/>
<path class="m" d="M96.40,336.20 L99.80,340.20 L101.80,336.20"/>
<path class="m" d="M121.40,336.40 L124.60,340.20 L126.60,337.00"/>
<path class="m" d="M134.00,334.60 L136.40,339.60 L139.00,337.80"/>
<path class="b" d="M128.00,330.00 L131.40,332.60 L131.00,330.00 Z"/>
<path class="b" d="M108.60,330.80 L110.60,333.00 L111.60,330.80 Z"/>
<path class="b" d="M135.40,335.80 L137.60,339.00 L138.40,336.40 Z"/>
<rect class="k" x="77.00" y="286.20" width="6.80" height="6.80" style="fill:#fff"/>
<line class="m" x1="80.40" y1="283.80" x2="80.40" y2="295.40"/>
<line class="m" x1="74.60" y1="289.60" x2="86.20" y2="289.60"/>
<rect class="m" x="78.80" y="288.00" width="3.20" height="3.20"/>
<rect class="k" x="148.20" y="286.20" width="6.80" height="6.80" style="fill:#fff"/>
<line class="m" x1="151.60" y1="283.80" x2="151.60" y2="295.40"/>
<line class="m" x1="145.80" y1="289.60" x2="157.40" y2="289.60"/>
<rect class="m" x="150.00" y="288.00" width="3.20" height="3.20"/>
<rect class="k" x="77.00" y="358.10" width="6.80" height="6.80" style="fill:#fff"/>
<line class="m" x1="80.40" y1="355.70" x2="80.40" y2="367.30"/>
<line class="m" x1="74.60" y1="361.50" x2="86.20" y2="361.50"/>
<rect class="m" x="78.80" y="359.90" width="3.20" height="3.20"/>
<rect class="k" x="148.20" y="358.10" width="6.80" height="6.80" style="fill:#fff"/>
<line class="m" x1="151.60" y1="355.70" x2="151.60" y2="367.30"/>
<line class="m" x1="145.80" y1="361.50" x2="157.40" y2="361.50"/>
<rect class="m" x="150.00" y="359.90" width="3.20" height="3.20"/>
<line class="n" x1="56.00" y1="286.80" x2="77.30" y2="286.80"/>
<line class="n" x1="56.00" y1="364.40" x2="77.30" y2="364.40"/>
<line class="n" x1="57.80" y1="286.80" x2="57.80" y2="364.40"/>
<path class="a" d="M57.80,286.80 L58.65,291.30 L56.95,291.30 Z"/>
<path class="a" d="M57.80,364.40 L56.95,359.90 L58.65,359.90 Z"/>
<text class="t" transform="translate(56.30,321.00) rotate(-90) scale(0.96,1)" font-size="6.3" text-anchor="middle">2306</text>
<line class="n" x1="65.40" y1="289.60" x2="77.30" y2="289.60"/>
<line class="n" x1="65.40" y1="361.40" x2="77.30" y2="361.40"/>
<line class="n" x1="66.90" y1="289.60" x2="66.90" y2="361.40"/>
<path class="a" d="M66.90,289.60 L67.75,294.10 L66.05,294.10 Z"/>
<path class="a" d="M66.90,361.40 L66.05,356.90 L67.75,356.90 Z"/>
<text class="t" transform="translate(65.40,321.00) rotate(-90) scale(0.96,1)" font-size="6.3" text-anchor="middle">2196</text>
<line class="n" x1="80.60" y1="364.80" x2="80.60" y2="372.80"/>
<line class="n" x1="152.20" y1="364.80" x2="152.20" y2="372.80"/>
<line class="n" x1="80.60" y1="371.30" x2="152.20" y2="371.30"/>
<path class="a" d="M80.60,371.30 L85.10,370.45 L85.10,372.15 Z"/>
<path class="a" d="M152.20,371.30 L147.70,372.15 L147.70,370.45 Z"/>
<text class="t" transform="translate(112.00,370.00) rotate(0) scale(0.96,1)" font-size="6.3" text-anchor="middle">2086</text>
<line class="n" x1="77.40" y1="364.80" x2="77.40" y2="382.00"/>
<line class="n" x1="154.80" y1="364.80" x2="154.80" y2="382.00"/>
<line class="n" x1="77.40" y1="380.50" x2="154.80" y2="380.50"/>
<path class="a" d="M77.40,380.50 L81.90,379.65 L81.90,381.35 Z"/>
<path class="a" d="M154.80,380.50 L150.30,381.35 L150.30,379.65 Z"/>
<text class="t" transform="translate(120.80,379.20) rotate(0) scale(0.96,1)" font-size="6.3" text-anchor="middle">2286</text>
<line class="n" x1="147.80" y1="274.40" x2="147.80" y2="286.50"/>
<line class="n" x1="154.00" y1="274.40" x2="154.00" y2="286.50"/>
<line class="n" x1="139.00" y1="275.80" x2="162.80" y2="275.80"/>
<path class="a" d="M147.80,275.80 L143.30,276.65 L143.30,274.95 Z"/>
<path class="a" d="M154.00,275.80 L158.50,274.95 L158.50,276.65 Z"/>
<text class="t" transform="translate(151.40,274.50) rotate(0) scale(0.96,1)" font-size="6.3" text-anchor="middle">200</text>
<line class="n" x1="149.40" y1="280.40" x2="149.40" y2="286.50"/>
<line class="n" x1="152.40" y1="280.40" x2="152.40" y2="286.50"/>
<line class="n" x1="140.40" y1="281.70" x2="161.40" y2="281.70"/>
<path class="a" d="M149.40,281.70 L144.90,282.55 L144.90,280.85 Z"/>
<path class="a" d="M152.40,281.70 L156.90,280.85 L156.90,282.55 Z"/>
<text class="t" transform="translate(151.60,280.70) rotate(0) scale(0.96,1)" font-size="6.3" text-anchor="middle">140</text>
<path class="n" d="M155.40,287.40 L164.00,279.60 L205.00,279.60"/>
<path class="a" d="M155.40,287.40 L157.31,284.74 L158.25,285.78 Z"/>
<text class="t" transform="translate(187.60,278.00) rotate(0) scale(0.96,1)" font-size="6.3" text-anchor="middle">12 отв. Ø18</text>
<line class="n" x1="154.00" y1="286.50" x2="175.00" y2="286.50"/>
<line class="n" x1="154.00" y1="292.70" x2="175.00" y2="292.70"/>
<line class="n" x1="154.00" y1="288.20" x2="166.40" y2="288.20"/>
<line class="n" x1="154.00" y1="291.20" x2="166.40" y2="291.20"/>
<line class="n" x1="164.70" y1="279.60" x2="164.70" y2="299.80"/>
<path class="a" d="M164.70,288.20 L163.85,283.70 L165.55,283.70 Z"/>
<path class="a" d="M164.70,291.20 L165.55,295.70 L163.85,295.70 Z"/>
<text class="t" transform="translate(163.50,289.80) rotate(-90) scale(0.96,1)" font-size="6.3" text-anchor="middle">140</text>
<line class="n" x1="173.30" y1="277.10" x2="173.30" y2="302.10"/>
<path class="a" d="M173.30,286.50 L172.45,282.00 L174.15,282.00 Z"/>
<path class="a" d="M173.30,292.70 L174.15,297.20 L172.45,297.20 Z"/>
<text class="t" transform="translate(172.10,289.80) rotate(-90) scale(0.96,1)" font-size="6.3" text-anchor="middle">200</text>
<text class="t" transform="translate(256.20,294.40) rotate(0) scale(0.96,1)" font-size="9" text-anchor="middle">В  ( 1:10 )</text>
<rect class="k" x="226.60" y="311.80" width="54.40" height="54.40"/>
<rect class="k" x="233.50" y="318.70" width="40.50" height="40.50"/>
<circle class="b" cx="230.00" cy="315.20" r="1.10"/>
<line class="n" x1="226.80" y1="315.20" x2="233.20" y2="315.20"/>
<line class="n" x1="230.00" y1="312.00" x2="230.00" y2="318.40"/>
<circle class="b" cx="230.00" cy="331.00" r="1.10"/>
<line class="n" x1="226.80" y1="331.00" x2="233.20" y2="331.00"/>
<line class="n" x1="230.00" y1="327.80" x2="230.00" y2="334.20"/>
<circle class="b" cx="230.00" cy="346.80" r="1.10"/>
<line class="n" x1="226.80" y1="346.80" x2="233.20" y2="346.80"/>
<line class="n" x1="230.00" y1="343.60" x2="230.00" y2="350.00"/>
<circle class="b" cx="230.00" cy="363.00" r="1.10"/>
<line class="n" x1="226.80" y1="363.00" x2="233.20" y2="363.00"/>
<line class="n" x1="230.00" y1="359.80" x2="230.00" y2="366.20"/>
<circle class="b" cx="245.60" cy="315.20" r="1.10"/>
<line class="n" x1="242.40" y1="315.20" x2="248.80" y2="315.20"/>
<line class="n" x1="245.60" y1="312.00" x2="245.60" y2="318.40"/>
<circle class="b" cx="245.60" cy="363.00" r="1.10"/>
<line class="n" x1="242.40" y1="363.00" x2="248.80" y2="363.00"/>
<line class="n" x1="245.60" y1="359.80" x2="245.60" y2="366.20"/>
<circle class="b" cx="261.40" cy="315.20" r="1.10"/>
<line class="n" x1="258.20" y1="315.20" x2="264.60" y2="315.20"/>
<line class="n" x1="261.40" y1="312.00" x2="261.40" y2="318.40"/>
<circle class="b" cx="261.40" cy="363.00" r="1.10"/>
<line class="n" x1="258.20" y1="363.00" x2="264.60" y2="363.00"/>
<line class="n" x1="261.40" y1="359.80" x2="261.40" y2="366.20"/>
<circle class="b" cx="277.40" cy="315.20" r="1.10"/>
<line class="n" x1="274.20" y1="315.20" x2="280.60" y2="315.20"/>
<line class="n" x1="277.40" y1="312.00" x2="277.40" y2="318.40"/>
<circle class="b" cx="277.40" cy="331.00" r="1.10"/>
<line class="n" x1="274.20" y1="331.00" x2="280.60" y2="331.00"/>
<line class="n" x1="277.40" y1="327.80" x2="277.40" y2="334.20"/>
<circle class="b" cx="277.40" cy="346.80" r="1.10"/>
<line class="n" x1="274.20" y1="346.80" x2="280.60" y2="346.80"/>
<line class="n" x1="277.40" y1="343.60" x2="277.40" y2="350.00"/>
<circle class="b" cx="277.40" cy="363.00" r="1.10"/>
<line class="n" x1="274.20" y1="363.00" x2="280.60" y2="363.00"/>
<line class="n" x1="277.40" y1="359.80" x2="277.40" y2="366.20"/>
<line class="n" x1="215.60" y1="315.20" x2="230.00" y2="315.20"/>
<line class="n" x1="215.60" y1="331.00" x2="230.00" y2="331.00"/>
<line class="n" x1="217.20" y1="315.20" x2="217.20" y2="331.00"/>
<path class="a" d="M217.20,315.20 L218.05,319.70 L216.35,319.70 Z"/>
<path class="a" d="M217.20,331.00 L216.35,326.50 L218.05,326.50 Z"/>
<text class="t" transform="translate(215.80,323.20) rotate(-90) scale(0.96,1)" font-size="6.3" text-anchor="middle">117</text>
<line class="n" x1="203.80" y1="315.20" x2="216.00" y2="315.20"/>
<line class="n" x1="203.80" y1="363.00" x2="230.00" y2="363.00"/>
<line class="n" x1="205.40" y1="315.20" x2="205.40" y2="363.00"/>
<path class="a" d="M205.40,315.20 L206.25,319.70 L204.55,319.70 Z"/>
<path class="a" d="M205.40,363.00 L204.55,358.50 L206.25,358.50 Z"/>
<text class="t" transform="translate(204.00,339.40) rotate(-90) scale(0.96,1)" font-size="6.3" text-anchor="middle">3х117=350</text>
<line class="n" x1="230.00" y1="363.00" x2="230.00" y2="389.40"/>
<line class="n" x1="245.60" y1="363.00" x2="245.60" y2="379.60"/>
<line class="n" x1="277.40" y1="363.00" x2="277.40" y2="389.40"/>
<line class="n" x1="230.00" y1="378.00" x2="245.60" y2="378.00"/>
<path class="a" d="M230.00,378.00 L234.50,377.15 L234.50,378.85 Z"/>
<path class="a" d="M245.60,378.00 L241.10,378.85 L241.10,377.15 Z"/>
<text class="t" transform="translate(237.80,376.60) rotate(0) scale(0.96,1)" font-size="6.3" text-anchor="middle">117</text>
<line class="n" x1="230.00" y1="387.80" x2="277.40" y2="387.80"/>
<path class="a" d="M230.00,387.80 L234.50,386.95 L234.50,388.65 Z"/>
<path class="a" d="M277.40,387.80 L272.90,388.65 L272.90,386.95 Z"/>
<text class="t" transform="translate(254.00,386.40) rotate(0) scale(0.96,1)" font-size="6.3" text-anchor="middle">3х117=350</text>
<line class="n" x1="274.00" y1="318.70" x2="296.60" y2="318.70"/>
<line class="n" x1="274.00" y1="359.20" x2="296.60" y2="359.20"/>
<line class="n" x1="295.60" y1="318.70" x2="295.60" y2="359.20"/>
<path class="a" d="M295.60,318.70 L296.45,323.20 L294.75,323.20 Z"/>
<path class="a" d="M295.60,359.20 L294.75,354.70 L296.45,354.70 Z"/>
<text class="t" transform="translate(293.00,334.80) rotate(-90) scale(0.96,1)" font-size="6.3" text-anchor="middle">300</text>
<rect class="n" x="289.70" y="342.10" width="3.40" height="3.40"/>
<line class="n" x1="281.00" y1="311.80" x2="307.00" y2="311.80"/>
<line class="n" x1="281.00" y1="366.20" x2="307.00" y2="366.20"/>
<line class="n" x1="305.40" y1="311.80" x2="305.40" y2="366.20"/>
<path class="a" d="M305.40,311.80 L306.25,316.30 L304.55,316.30 Z"/>
<path class="a" d="M305.40,366.20 L304.55,361.70 L306.25,361.70 Z"/>
<text class="t" transform="translate(303.20,334.80) rotate(-90) scale(0.96,1)" font-size="6.3" text-anchor="middle">400</text>
<rect class="n" x="300.10" y="342.10" width="3.40" height="3.40"/>
<path class="n" d="M275.20,321.60 L281.20,299.00 L321.40,299.00"/>
<path class="a" d="M275.20,321.60 L275.35,318.33 L276.70,318.69 Z"/>
<text class="t" transform="translate(304.60,297.40) rotate(0) scale(0.96,1)" font-size="6.3" text-anchor="middle">12 отв. Ø14</text>
<path class="w" d="M478.8,240.4 L512.4,284.4 L519,287.6 L518.8,262.6 Z"/>
<path class="w" d="M558.8,241.6 L526,284.4 L519,287.6 L518.8,262.6 Z"/>
<path class="m" d="M483.40,242.60 L514.20,282.40"/>
<path class="m" d="M554.40,243.80 L524.20,282.40"/>
<path class="m" d="M517.20,264.60 L517.60,285.60"/>
<path class="m" d="M520.60,264.60 L520.40,285.60"/>
<path class="w" d="M512.4,284.4 L519,287.6 L526,284.4 L526,285.6 L519,288.8 L512.4,285.6 Z"/>
<path class="w" d="M478.8,233.8 L518.8,256 L518.8,262.6 L478.8,240.4 Z"/>
<path class="w" d="M558.8,235 L518.8,256 L518.8,262.6 L558.8,241.6 Z"/>
<path class="w" d="M478.8,233.8 L519,212.6 L558.8,235 L518.8,256 Z"/>
<path class="b" d="M476.60,242.00 L479.40,238.80 L482.00,242.00 Z"/>
<path class="b" d="M516.20,264.40 L518.80,261.20 L521.40,264.40 Z"/>
<path class="b" d="M555.80,243.20 L558.40,240.00 L561.00,243.20 Z"/>
<path class="w" d="M510.80,195.00 L515.20,216.60 A3.8,1.9 0 0 0 522.80,216.60 L527.20,195.00 Z"/>
<ellipse class="k" cx="519.00" cy="217.40" rx="4.20" ry="1.90"/>
<path class="kk" d="M514.70,217.80 A4.30,2.00 0 0 0 523.30,217.80"/>
<path class="w" d="M510.80,160.00 L510.80,195.00 A8.2,4.3 0 0 0 527.20,195.00 L527.20,166.50 Z"/>
<ellipse class="w" cx="519.00" cy="163.20" rx="8.9" ry="4.3" transform="rotate(21 519.00 163.20)"/>
<path class="k" d="M510.80,161.80 Q514.00,168.40 520.50,169.40 T527.20,168.40"/>
<path class="w" d="M496.30,203.00 L500.70,224.60 A3.8,1.9 0 0 0 508.30,224.60 L512.70,203.00 Z"/>
<ellipse class="k" cx="504.50" cy="225.40" rx="4.20" ry="1.90"/>
<path class="kk" d="M500.20,225.80 A4.30,2.00 0 0 0 508.80,225.80"/>
<path class="w" d="M496.30,168.00 L496.30,203.00 A8.2,4.3 0 0 0 512.70,203.00 L512.70,174.50 Z"/>
<ellipse class="w" cx="504.50" cy="171.20" rx="8.9" ry="4.3" transform="rotate(21 504.50 171.20)"/>
<path class="k" d="M496.30,169.80 Q499.50,176.40 506.00,177.40 T512.70,176.40"/>
<path class="w" d="M481.80,211.00 L486.20,232.60 A3.8,1.9 0 0 0 493.80,232.60 L498.20,211.00 Z"/>
<ellipse class="k" cx="490.00" cy="233.40" rx="4.20" ry="1.90"/>
<path class="kk" d="M485.70,233.80 A4.30,2.00 0 0 0 494.30,233.80"/>
<path class="w" d="M481.80,176.00 L481.80,211.00 A8.2,4.3 0 0 0 498.20,211.00 L498.20,182.50 Z"/>
<ellipse class="w" cx="490.00" cy="179.20" rx="8.9" ry="4.3" transform="rotate(21 490.00 179.20)"/>
<path class="k" d="M481.80,177.80 Q485.00,184.40 491.50,185.40 T498.20,184.40"/>
<path class="w" d="M539.30,213.00 L543.70,234.60 A3.8,1.9 0 0 0 551.30,234.60 L555.70,213.00 Z"/>
<ellipse class="k" cx="547.50" cy="235.40" rx="4.20" ry="1.90"/>
<path class="kk" d="M543.20,235.80 A4.30,2.00 0 0 0 551.80,235.80"/>
<path class="w" d="M539.30,178.00 L539.30,213.00 A8.2,4.3 0 0 0 555.70,213.00 L555.70,184.50 Z"/>
<ellipse class="w" cx="547.50" cy="181.20" rx="8.9" ry="4.3" transform="rotate(21 547.50 181.20)"/>
<path class="k" d="M539.30,179.80 Q542.50,186.40 549.00,187.40 T555.70,186.40"/>
<path class="w" d="M524.80,221.00 L529.20,242.60 A3.8,1.9 0 0 0 536.80,242.60 L541.20,221.00 Z"/>
<ellipse class="k" cx="533.00" cy="243.40" rx="4.20" ry="1.90"/>
<path class="kk" d="M528.70,243.80 A4.30,2.00 0 0 0 537.30,243.80"/>
<path class="w" d="M524.80,186.00 L524.80,221.00 A8.2,4.3 0 0 0 541.20,221.00 L541.20,192.50 Z"/>
<ellipse class="w" cx="533.00" cy="189.20" rx="8.9" ry="4.3" transform="rotate(21 533.00 189.20)"/>
<path class="k" d="M524.80,187.80 Q528.00,194.40 534.50,195.40 T541.20,194.40"/>
<path class="w" d="M510.40,229.00 L514.80,250.60 A3.8,1.9 0 0 0 522.40,250.60 L526.80,229.00 Z"/>
<ellipse class="k" cx="518.60" cy="251.40" rx="4.20" ry="1.90"/>
<path class="kk" d="M514.30,251.80 A4.30,2.00 0 0 0 522.90,251.80"/>
<path class="w" d="M510.40,194.00 L510.40,229.00 A8.2,4.3 0 0 0 526.80,229.00 L526.80,200.50 Z"/>
<ellipse class="w" cx="518.60" cy="197.20" rx="8.9" ry="4.3" transform="rotate(21 518.60 197.20)"/>
<path class="k" d="M510.40,195.80 Q513.60,202.40 520.10,203.40 T526.80,202.40"/>
<path class="kk" d="M493.00,183.50 q5,1.2 8.6,4.4"/>
<path class="kk" d="M507.50,175.50 q5,1.2 8.6,4.4"/>
<path class="kk" d="M522.00,167.50 q5,1.2 8.6,4.4"/>
<path class="w" d="M513.40,152.00 L513.40,162.50 A5.6,3 0 0 0 524.60,162.50 L524.60,152.00 Z"/>
<path class="kk" d="M512.10,159.40 A6.90,3.50 0 0 0 525.90,159.40"/>
<path class="k" d="M512.10,157.60 A6.90,3.50 0 0 0 525.90,157.60"/>
<line class="m" x1="516.60" y1="158.00" x2="516.60" y2="163.60"/>
<line class="m" x1="521.60" y1="158.00" x2="521.60" y2="163.60"/>
<path class="w" d="M510.60,146.00 L510.60,154.60 A8.40,4.6 0 0 0 527.40,154.60 L527.40,146.00 Z"/>
<ellipse class="w" cx="519.00" cy="146.00" rx="8.40" ry="4.60"/>
<path class="w" d="M498.90,160.00 L498.90,170.50 A5.6,3 0 0 0 510.10,170.50 L510.10,160.00 Z"/>
<path class="kk" d="M497.60,167.40 A6.90,3.50 0 0 0 511.40,167.40"/>
<path class="k" d="M497.60,165.60 A6.90,3.50 0 0 0 511.40,165.60"/>
<line class="m" x1="502.10" y1="166.00" x2="502.10" y2="171.60"/>
<line class="m" x1="507.10" y1="166.00" x2="507.10" y2="171.60"/>
<path class="w" d="M496.10,154.00 L496.10,162.60 A8.40,4.6 0 0 0 512.90,162.60 L512.90,154.00 Z"/>
<ellipse class="w" cx="504.50" cy="154.00" rx="8.40" ry="4.60"/>
<path class="w" d="M484.40,168.00 L484.40,178.50 A5.6,3 0 0 0 495.60,178.50 L495.60,168.00 Z"/>
<path class="kk" d="M483.10,175.40 A6.90,3.50 0 0 0 496.90,175.40"/>
<path class="k" d="M483.10,173.60 A6.90,3.50 0 0 0 496.90,173.60"/>
<line class="m" x1="487.60" y1="174.00" x2="487.60" y2="179.60"/>
<line class="m" x1="492.60" y1="174.00" x2="492.60" y2="179.60"/>
<path class="w" d="M481.60,162.00 L481.60,170.60 A8.40,4.6 0 0 0 498.40,170.60 L498.40,162.00 Z"/>
<ellipse class="w" cx="490.00" cy="162.00" rx="8.40" ry="4.60"/>
<path class="w" d="M485.6,166.4 L510.4,180.6 L510.4,191.6 L485.6,177.4 Z"/>
<path class="kk" d="M490.00,169.80 L490.00,180.00"/>
<path class="kk" d="M506.00,178.80 L506.00,189.00"/>
<path class="kk" d="M487.20,168.40 L487.20,178.20"/>
<path class="kk" d="M508.80,180.40 L508.80,190.60"/>
<path class="m" d="M490.00,171.60 L506.00,180.60"/>
<path class="m" d="M490.00,178.40 L506.00,187.40"/>
<path class="w" d="M510.2,175.5 L512.5,170.2 L520,165.4 L529,164 L529,168 L521,170.4 L515,174.6 L512.6,181.6 L510.2,181 Z"/>
<path class="w" d="M493,168.7 L507.2,164.2 L510.4,161.8 L506.4,159.8 L508.6,157.8 L512.8,159 L518.2,153.4 L520.2,150.6 L523.2,152.8 L520.6,158.6 L519.4,161.8 L527,160.6 L538,158.8 L541,161.8 L529,164 L520,165.4 L512.5,170.2 L510.2,175.5 Z"/>
<path class="m" d="M519.4,161.8 L516,164.8 L511.6,166.8"/>
<path class="k" d="M523,167.6 L528.6,169.4 M521.6,170 L526,172.8"/>
<path class="kk" d="M497.4,166.2 L501.6,163 M499.6,158.4 L503.6,161.6"/>
<path class="w" d="M541.90,170.00 L541.90,180.50 A5.6,3 0 0 0 553.10,180.50 L553.10,170.00 Z"/>
<path class="kk" d="M540.60,177.40 A6.90,3.50 0 0 0 554.40,177.40"/>
<path class="k" d="M540.60,175.60 A6.90,3.50 0 0 0 554.40,175.60"/>
<line class="m" x1="545.10" y1="176.00" x2="545.10" y2="181.60"/>
<line class="m" x1="550.10" y1="176.00" x2="550.10" y2="181.60"/>
<path class="w" d="M538.76,164.00 L538.76,172.60 A8.74,4.6 0 0 0 556.24,172.60 L556.24,164.00 Z"/>
<ellipse class="w" cx="547.50" cy="164.00" rx="8.74" ry="4.60"/>
<path class="w" d="M527.40,178.00 L527.40,188.50 A5.6,3 0 0 0 538.60,188.50 L538.60,178.00 Z"/>
<path class="kk" d="M526.10,185.40 A6.90,3.50 0 0 0 539.90,185.40"/>
<path class="k" d="M526.10,183.60 A6.90,3.50 0 0 0 539.90,183.60"/>
<line class="m" x1="530.60" y1="184.00" x2="530.60" y2="189.60"/>
<line class="m" x1="535.60" y1="184.00" x2="535.60" y2="189.60"/>
<path class="w" d="M524.60,172.00 L524.60,180.60 A8.40,4.6 0 0 0 541.40,180.60 L541.40,172.00 Z"/>
<ellipse class="w" cx="533.00" cy="172.00" rx="8.40" ry="4.60"/>
<path class="w" d="M513.00,186.00 L513.00,196.50 A5.6,3 0 0 0 524.20,196.50 L524.20,186.00 Z"/>
<path class="kk" d="M511.70,193.40 A6.90,3.50 0 0 0 525.50,193.40"/>
<path class="k" d="M511.70,191.60 A6.90,3.50 0 0 0 525.50,191.60"/>
<line class="m" x1="516.20" y1="192.00" x2="516.20" y2="197.60"/>
<line class="m" x1="521.20" y1="192.00" x2="521.20" y2="197.60"/>
<path class="w" d="M510.20,180.00 L510.20,188.60 A8.40,4.6 0 0 0 527.00,188.60 L527.00,180.00 Z"/>
<ellipse class="w" cx="518.60" cy="180.00" rx="8.40" ry="4.60"/>
</svg>
</body></html>
